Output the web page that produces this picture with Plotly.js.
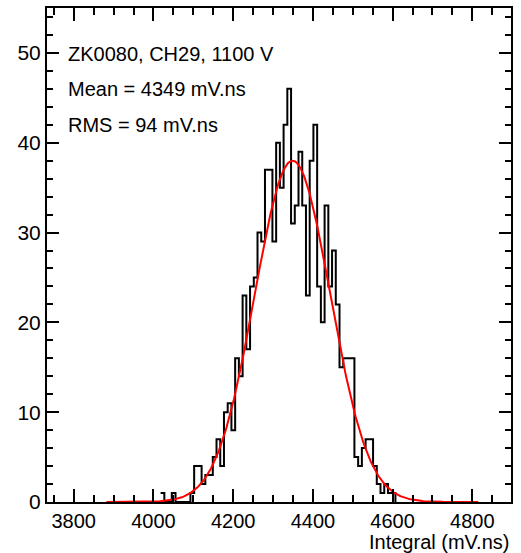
<!DOCTYPE html>
<html>
<head>
<meta charset="utf-8">
<script src="https://cdn.plot.ly/plotly-3.0.1.min.js"></script>
<style>
  html, body { margin: 0; padding: 0; background: #ffffff; }
  #chart { width: 521px; height: 553px; }
</style>
</head>
<body>
<div id="chart"></div>
<script>
// Histogram: lower edge of first bin, bin width, and counts
const binStart = 4018;
const binWidth = 9.35;
const counts = [
  1, 0, 0, 1, 0, 0, 0, 0, 1, 4,
  4, 2, 3, 3, 5, 7, 4, 10, 11, 8,
  16, 14, 23, 17, 24, 25, 30, 29, 37, 37,
  29, 40, 35, 42, 46, 31, 33, 39, 33, 23,
  38, 42, 24, 20, 33, 24, 28, 22, 15, 16,
  16, 16, 5, 4, 6, 7, 7, 4, 2, 1,
  2, 1, 1
];

// Gaussian fit parameters
const fitAmp = 38;
const fitMean = 4349;
const fitSigma = 95;
const fitMin = 3882;
const fitMax = 4815;

// Text
const infoLines = ["ZK0080, CH29, 1100 V", "Mean = 4349 mV.ns", "RMS = 94 mV.ns"];
const xTitle = "Integral (mV.ns)";
const xRange = [3733, 4897];
const yRange = [0, 55];

// Build step outline from bin edges
const hx = [], hy = [];
for (let i = 0; i < counts.length; i++) {
  hx.push(binStart + i * binWidth);
  hy.push(counts[i]);
}
hx.push(binStart + counts.length * binWidth);
hy.push(counts[counts.length - 1]);
hx.push(binStart + counts.length * binWidth);
hy.push(0);

// Fit curve
const fx = [], fy = [];
const nPts = 400;
for (let i = 0; i <= nPts; i++) {
  const x = fitMin + (fitMax - fitMin) * i / nPts;
  fx.push(x);
  fy.push(fitAmp * Math.exp(-0.5 * Math.pow((x - fitMean) / fitSigma, 2)));
}

const font = "Liberation Sans, Arial, Helvetica, sans-serif";

const traces = [
  {
    x: hx, y: hy, type: "scatter", mode: "lines",
    line: { shape: "hv", color: "#000000", width: 2 },
    hoverinfo: "skip", showlegend: false
  },
  {
    x: fx, y: fy, type: "scatter", mode: "lines",
    line: { color: "#ff0000", width: 2 },
    hoverinfo: "skip", showlegend: false
  }
];

const infoY = [0.906, 0.836, 0.763];
const annotations = infoLines.map((t, i) => ({
  text: t, xref: "paper", yref: "paper", x: 0.041, y: infoY[i],
  xanchor: "left", yanchor: "middle", showarrow: false,
  font: { family: font, size: 20, color: "#000000" }
}));
annotations.push({
  text: xTitle, xref: "paper", yref: "paper", x: 1.0, y: 0,
  xanchor: "right", yanchor: "middle", yshift: -40, showarrow: false,
  font: { family: font, size: 20, color: "#000000" }
});

const layout = {
  width: 521, height: 553,
  margin: { l: 47, r: 10, t: 8, b: 51 },
  paper_bgcolor: "#ffffff", plot_bgcolor: "#ffffff",
  font: { family: font, size: 20, color: "#000000" },
  showlegend: false,
  xaxis: {
    range: xRange, tick0: 3800, dtick: 200,
    ticks: "inside", ticklen: 13, tickwidth: 2, tickcolor: "#000000",
    showline: true, linewidth: 2, linecolor: "#000000", mirror: "allticks",
    showgrid: false, zeroline: false,
    tickfont: { family: font, size: 20, color: "#000000" },
    minor: { tick0: 3800, dtick: 50, ticks: "inside", ticklen: 7, tickwidth: 2, tickcolor: "#000000", showgrid: false }
  },
  yaxis: {
    range: yRange, tick0: 0, dtick: 10,
    ticks: "inside", ticklen: 12, tickwidth: 2, tickcolor: "#000000",
    showline: true, linewidth: 2, linecolor: "#000000", mirror: "allticks",
    showgrid: false, zeroline: false,
    tickfont: { family: font, size: 21, color: "#000000" },
    minor: { tick0: 0, dtick: 2, ticks: "inside", ticklen: 6, tickwidth: 2, tickcolor: "#000000", showgrid: false }
  },
  annotations: annotations
};

Plotly.newPlot("chart", traces, layout, { staticPlot: true, displayModeBar: false });
</script>
</body>
</html>
